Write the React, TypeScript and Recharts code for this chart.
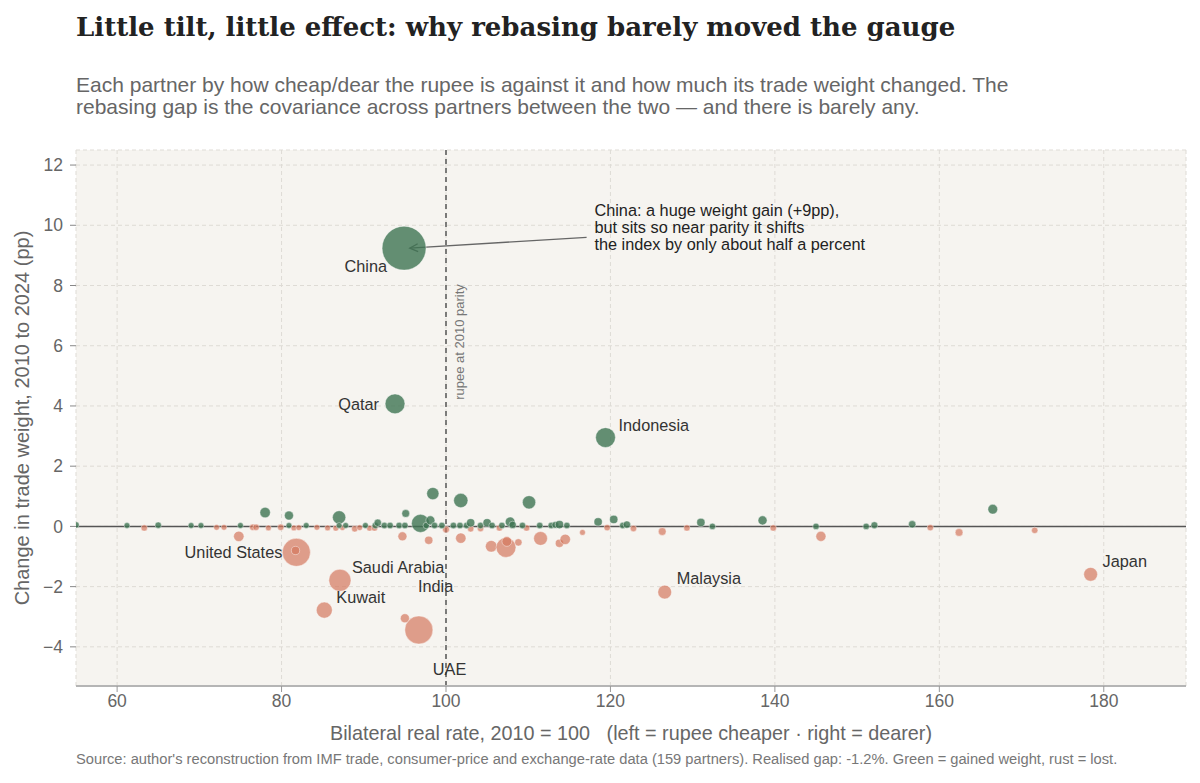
import React from 'react';
import {
  ScatterChart,
  Scatter,
  XAxis,
  YAxis,
  ZAxis,
  CartesianGrid,
  ReferenceLine,
  ReferenceDot,
} from 'recharts';

// [bilateral real rate (2010 = 100), change in trade weight (pp), 2024 trade weight (%)]
type Row = [number, number, number];

const namedGainers: { name: string; row: Row }[] = [
  { name: 'China', row: [94.9, 9.24, 14.2] },
  { name: 'Qatar', row: [93.8, 4.07, 2.9] },
  { name: 'Indonesia', row: [119.4, 2.95, 2.9] },
];

const namedLosers: { name: string; row: Row }[] = [
  { name: 'United States', row: [81.8, -0.86, 5.8] },
  { name: 'Saudi Arabia', row: [87.1, -1.79, 3.6] },
  { name: 'Kuwait', row: [85.2, -2.78, 1.9] },
  { name: 'UAE', row: [96.7, -3.44, 5.8] },
  { name: 'India', row: [95.0, -3.05, 0.6] },
  { name: 'Malaysia', row: [126.6, -2.18, 1.4] },
  { name: 'Japan', row: [178.4, -1.59, 1.4] },
];

const otherGainers: Row[] = [
  [55.0, 0.05, 0.3], [61.2, 0.03, 0.25], [65.0, 0.04, 0.3], [69.0, 0.03, 0.25],
  [70.2, 0.03, 0.25], [75.0, 0.03, 0.25], [78.0, 0.46, 0.8], [80.9, 0.36, 0.6],
  [80.9, 0.03, 0.25], [83.0, 0.03, 0.25], [87.0, 0.3, 1.3], [87.0, 0.03, 0.25],
  [87.8, 0.03, 0.25], [90.2, 0.03, 0.25], [91.4, 0.03, 0.3], [91.7, 0.12, 0.4],
  [92.5, 0.03, 0.3], [93.2, 0.03, 0.3], [94.3, 0.03, 0.3], [95.0, 0.03, 0.3],
  [95.1, 0.43, 0.45], [96.9, 0.1, 2.4], [97.6, 0.03, 0.3], [98.1, 0.2, 0.6],
  [98.4, 1.09, 1.1], [98.6, 0.03, 0.3], [99.5, 0.03, 0.3], [100.9, 0.03, 0.3],
  [101.8, 0.86, 1.5], [101.7, 0.03, 0.3], [102.5, 0.03, 0.3], [103.0, 0.12, 0.5],
  [104.2, 0.03, 0.3], [105.0, 0.12, 0.5], [105.6, 0.03, 0.3], [106.8, 0.03, 0.3],
  [107.8, 0.15, 0.7], [108.1, 0.05, 0.4], [109.3, 0.03, 0.3], [110.1, 0.8, 1.3],
  [111.4, 0.03, 0.3], [112.8, 0.03, 0.3], [113.3, 0.05, 0.35], [113.8, 0.06, 0.5],
  [114.7, 0.03, 0.3], [118.5, 0.15, 0.5], [120.4, 0.23, 0.5], [121.5, 0.03, 0.3],
  [122.0, 0.06, 0.4], [131.0, 0.13, 0.5], [132.4, 0.0, 0.3], [138.5, 0.2, 0.6],
  [145.0, 0.0, 0.3], [151.1, 0.0, 0.3], [152.1, 0.04, 0.35], [156.7, 0.07, 0.4],
  [166.5, 0.57, 0.7],
];

const otherLosers: Row[] = [
  [63.3, -0.05, 0.3], [72.1, -0.03, 0.25], [73.0, -0.03, 0.25], [74.8, -0.33, 0.8],
  [76.5, -0.03, 0.3], [76.9, -0.03, 0.3], [78.4, -0.05, 0.25], [79.9, -0.03, 0.3],
  [81.7, -0.8, 0.5], [81.5, -0.05, 0.25], [82.1, -0.04, 0.25], [84.3, -0.03, 0.25],
  [85.6, -0.05, 0.25], [86.6, -0.06, 0.25], [87.4, -0.04, 0.25], [88.9, -0.08, 0.3],
  [89.5, -0.04, 0.25], [90.7, -0.06, 0.25], [91.3, -0.05, 0.3], [94.7, -0.33, 0.6],
  [97.9, -0.46, 0.5], [100.0, -0.1, 0.35], [101.8, -0.39, 0.8], [103.0, -0.08, 0.3],
  [104.2, -0.07, 0.3], [105.5, -0.66, 1.0], [106.5, -0.05, 0.3], [107.3, -0.7, 2.9],
  [107.4, -0.5, 0.7], [108.8, -0.53, 0.4], [109.8, -0.05, 0.3], [111.5, -0.4, 1.4],
  [113.8, -0.56, 0.5], [114.5, -0.43, 0.8], [116.6, -0.2, 0.25], [119.6, -0.04, 0.3],
  [122.8, -0.07, 0.3], [126.3, -0.17, 0.45], [129.3, -0.05, 0.3], [139.8, -0.05, 0.3],
  [145.6, -0.33, 0.75], [158.9, -0.04, 0.3], [162.4, -0.2, 0.45], [171.6, -0.13, 0.3],
];

const xTicks = [60, 80, 100, 120, 140, 160, 180];
const yTicks = [-4, -2, 0, 2, 4, 6, 8, 10, 12];

const chinaNote = [
  'China: a huge weight gain (+9pp),',
  'but sits so near parity it shifts',
  'the index by only about half a percent',
];

// label placement relative to each bubble, in px
const labelOffsets: Record<string, { dx: number; dy: number; anchor: 'start' | 'end' }> = {
  China: { dx: -17, dy: 18, anchor: 'end' },
  Qatar: { dx: -16, dy: 0, anchor: 'end' },
  Indonesia: { dx: 13, dy: -13, anchor: 'start' },
  'United States': { dx: -14, dy: 0, anchor: 'end' },
  'Saudi Arabia': { dx: 12, dy: -13, anchor: 'start' },
  Kuwait: { dx: 12, dy: -13, anchor: 'start' },
  India: { dx: 13, dy: -32, anchor: 'start' },
  UAE: { dx: 14, dy: 39, anchor: 'start' },
  Malaysia: { dx: 12, dy: -14, anchor: 'start' },
  Japan: { dx: 12, dy: -13, anchor: 'start' },
};

const toPoint = (row: Row, name = '') => ({ name, rate: row[0], change: row[1], weight: row[2] });

const gainers = [...otherGainers.map((r) => toPoint(r)), ...namedGainers.map((p) => toPoint(p.row, p.name))];
const losers = [...namedLosers.map((p) => toPoint(p.row, p.name)), ...otherLosers.map((r) => toPoint(r))];
const named = [...namedGainers, ...namedLosers].map((p) => toPoint(p.row, p.name));

const SANS = '"Liberation Sans", Arial, Helvetica, sans-serif';
const GREEN = '#3f7452';
const RUST = '#d4785e';

const bubble = (fill: string, opacity: number) => (p: any) => {
  const r = p.width ? p.width / 2 : Math.sqrt((p.size || 20) / Math.PI);
  return (
    <circle cx={p.cx} cy={p.cy} r={r} fill={fill} fillOpacity={opacity} stroke="#ffffff" strokeOpacity={0.7} strokeWidth={0.6} />
  );
};

const nameLabel = (p: any) => {
  const o = labelOffsets[p.payload?.name];
  if (!o) return <g />;
  return (
    <text x={p.cx + o.dx} y={p.cy + o.dy} textAnchor={o.anchor} dominantBaseline="central" fontSize={16.3} fill="#333" fontFamily={SANS}>
      {p.payload.name}
    </text>
  );
};

const Arrow = (p: any) => {
  const { x1, y1, x2, y2 } = p;
  const ang = Math.atan2(y2 - y1, x2 - x1);
  const L = 9;
  const a1 = ang + Math.PI - 0.45;
  const a2 = ang + Math.PI + 0.45;
  return (
    <g>
      <line x1={x1} y1={y1} x2={x2} y2={y2} stroke="#666" strokeWidth={1.4} />
      <polyline
        points={`${x2 + L * Math.cos(a1)},${y2 + L * Math.sin(a1)} ${x2},${y2} ${x2 + L * Math.cos(a2)},${y2 + L * Math.sin(a2)}`}
        fill="none"
        stroke="#666"
        strokeWidth={1.4}
      />
    </g>
  );
};

const NoteText = (p: any) => (
  <text x={p.cx} y={p.cy} fontSize={16.3} fill="#222" fontFamily={SANS}>
    {chinaNote.map((line, i) => (
      <tspan key={i} x={p.cx} dy={i === 0 ? 0 : 17}>
        {line}
      </tspan>
    ))}
  </text>
);

const ParityLabel = (p: any) => {
  const vb = p.viewBox || {};
  const x = (vb.x ?? 446) + 13;
  const y = (vb.y ?? 150) + 192;
  return (
    <text x={x} y={y} transform={`rotate(-90 ${x} ${y})`} textAnchor="middle" dominantBaseline="central" fontSize={13} fill="#777" fontFamily={SANS}>
      rupee at 2010 parity
    </text>
  );
};

export default function App() {
  return (
    <div style={{ position: 'fixed', left: 0, top: 0, width: 1200, height: 783, background: '#fff', fontFamily: SANS }}>
      <div style={{ position: 'absolute', left: 76, top: 12, fontFamily: '"DejaVu Serif", "Liberation Serif", serif', fontWeight: 700, fontSize: 26, color: '#222', whiteSpace: 'nowrap' }}>
        Little tilt, little effect: why rebasing barely moved the gauge
      </div>
      <div style={{ position: 'absolute', left: 76, top: 74, width: 1110, fontSize: 21, lineHeight: '22px', color: '#666', whiteSpace: 'nowrap' }}>
        Each partner by how cheap/dear the rupee is against it and how much its trade weight changed. The
        <br />
        rebasing gap is the covariance across partners between the two — and there is barely any.
      </div>

      <ScatterChart width={1200} height={783} margin={{ top: 150, right: 14, bottom: 67, left: 16 }}>
        <CartesianGrid stroke="#dedbd5" strokeDasharray="4 3" fill="#f6f4f0" />
        <XAxis
          type="number"
          dataKey="rate"
          domain={[55, 190]}
          ticks={xTicks}
          allowDataOverflow
          height={30}
          tickSize={6}
          tickMargin={3}
          tick={{ fill: '#666', fontSize: 17.5, fontFamily: SANS }}
          tickLine={{ stroke: '#999' }}
          axisLine={{ stroke: '#b5b5b5', strokeWidth: 2 }}
        />
        <YAxis
          type="number"
          dataKey="change"
          domain={[-5.3, 12.5]}
          ticks={yTicks}
          allowDataOverflow
          width={60}
          tickSize={6}
          tickMargin={7}
          axisLine={false}
          tickLine={{ stroke: '#888' }}
          tick={{ fill: '#666', fontSize: 17.5, fontFamily: SANS }}
          tickFormatter={(v: number) => (v < 0 ? `\u2212${Math.abs(v)}` : `${v}`)}
        />
        <ZAxis type="number" dataKey="weight" domain={[0, 15]} range={[0, 1600]} />
        <ReferenceLine y={0} stroke="#555" strokeWidth={1.5} />
        <ReferenceLine x={100} stroke="#555" strokeWidth={1.5} strokeDasharray="5 4" label={<ParityLabel />} />
        <Scatter data={losers} shape={bubble(RUST, 0.7)} isAnimationActive={false} />
        <Scatter data={gainers} shape={bubble(GREEN, 0.8)} isAnimationActive={false} />
        <Scatter data={named} shape={nameLabel} isAnimationActive={false} />
        <ReferenceLine segment={[{ x: 117.1, y: 9.6 }, { x: 95.6, y: 9.24 }]} shape={<Arrow />} />
        <ReferenceDot x={118.05} y={10.3} r={1} shape={<NoteText />} />
      </ScatterChart>

      <div style={{ position: 'absolute', left: 22, top: 418, transform: 'translate(-50%, -50%) rotate(-90deg)', fontSize: 20, color: '#666', whiteSpace: 'nowrap' }}>
        Change in trade weight, 2010 to 2024 (pp)
      </div>
      <div style={{ position: 'absolute', left: 631, top: 733, transform: 'translate(-50%, -50%)', fontSize: 19.8, color: '#666', whiteSpace: 'pre' }}>
        {'Bilateral real rate, 2010 = 100   (left = rupee cheaper · right = dearer)'}
      </div>
      <div style={{ position: 'absolute', left: 76, top: 751, fontSize: 14.7, color: '#777', whiteSpace: 'nowrap' }}>
        Source: author's reconstruction from IMF trade, consumer-price and exchange-rate data (159 partners). Realised gap: -1.2%. Green = gained weight, rust = lost.
      </div>
    </div>
  );
}
